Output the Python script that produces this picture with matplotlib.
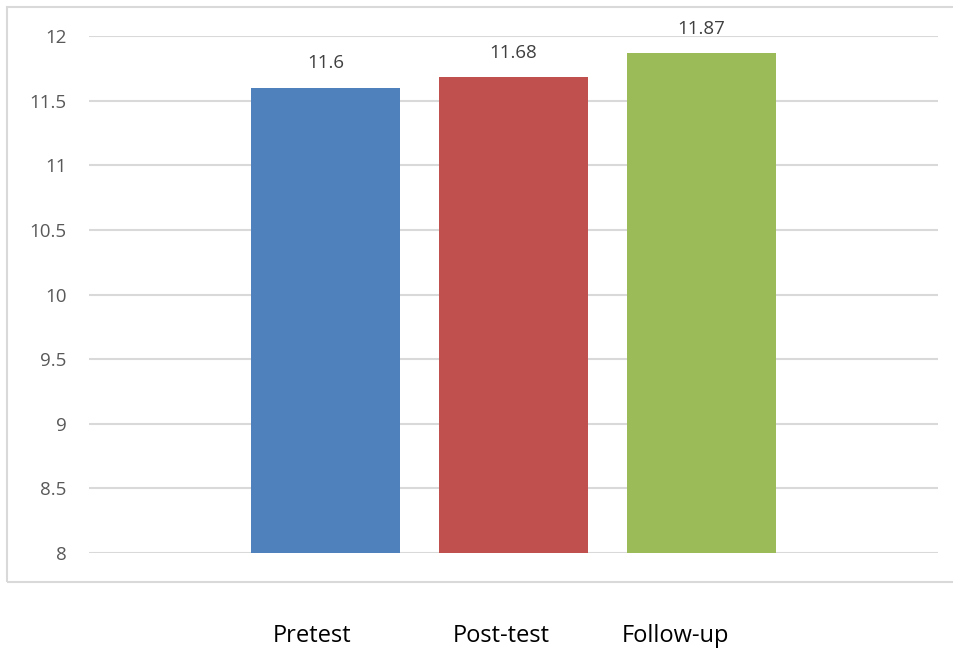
import matplotlib.pyplot as plt
from matplotlib.patches import Rectangle
from matplotlib.transforms import ScaledTranslation

plt.rcParams['font.family'] = ['Open Sans', 'DejaVu Sans']

grupos = ["Pretest", "Post-test", "Follow-up"]
medias = [11.6, 11.68, 11.87]
cores = ["#4F81BD", "#C0504D", "#9BBB59"]
yticks = [8, 8.5, 9, 9.5, 10, 10.5, 11, 11.5, 12]
ytick_labels = ["8", "8.5", "9", "9.5", "10", "10.5", "11", "11.5", "12"]

fig = plt.figure(figsize=(9.54, 6.49), dpi=100)
ax = fig.add_axes([89 / 954, 96 / 649, 849 / 954, 517 / 649])

posicoes = list(range(len(grupos)))
barras = ax.bar(posicoes, [m - 8 for m in medias], bottom=8, width=0.79,
                color=cores, zorder=3)

# rotulos de valor em cima das barras
for pos, m in zip(posicoes, medias):
    ax.annotate(f"{m:g}", (pos, m), xytext=(0, 11), textcoords="offset points",
                ha="center", va="bottom", fontsize=13.5, color="#404040")

ax.set_ylim(8, 12)
ax.set_xlim(-1.258, 3.258)
ax.set_yticks(yticks)
ax.set_yticklabels(ytick_labels, fontsize=13.5, color="#595959")
ax.grid(axis="y", color="#D9D9D9", linewidth=1.5, zorder=0)
ax.tick_params(axis="y", length=0, pad=16)

ax.set_xticks(posicoes)
ax.set_xticklabels(grupos, fontsize=17, color="#000000")
ax.tick_params(axis="x", length=0, pad=51)
desvios = [-13, -12, -26]
for lbl, dx in zip(ax.get_xticklabels(), desvios):
    lbl.set_transform(lbl.get_transform() + ScaledTranslation(dx / 100, 0, fig.dpi_scale_trans))

for lado in ax.spines.values():
    lado.set_visible(False)

# moldura cinza em volta da area do grafico
fig.add_artist(Rectangle((7 / 954, 67 / 649), 960 / 954, 575 / 649,
                         transform=fig.transFigure, fill=False,
                         edgecolor="#D9D9D9", linewidth=1.5))

plt.savefig("out.png", dpi=100)
